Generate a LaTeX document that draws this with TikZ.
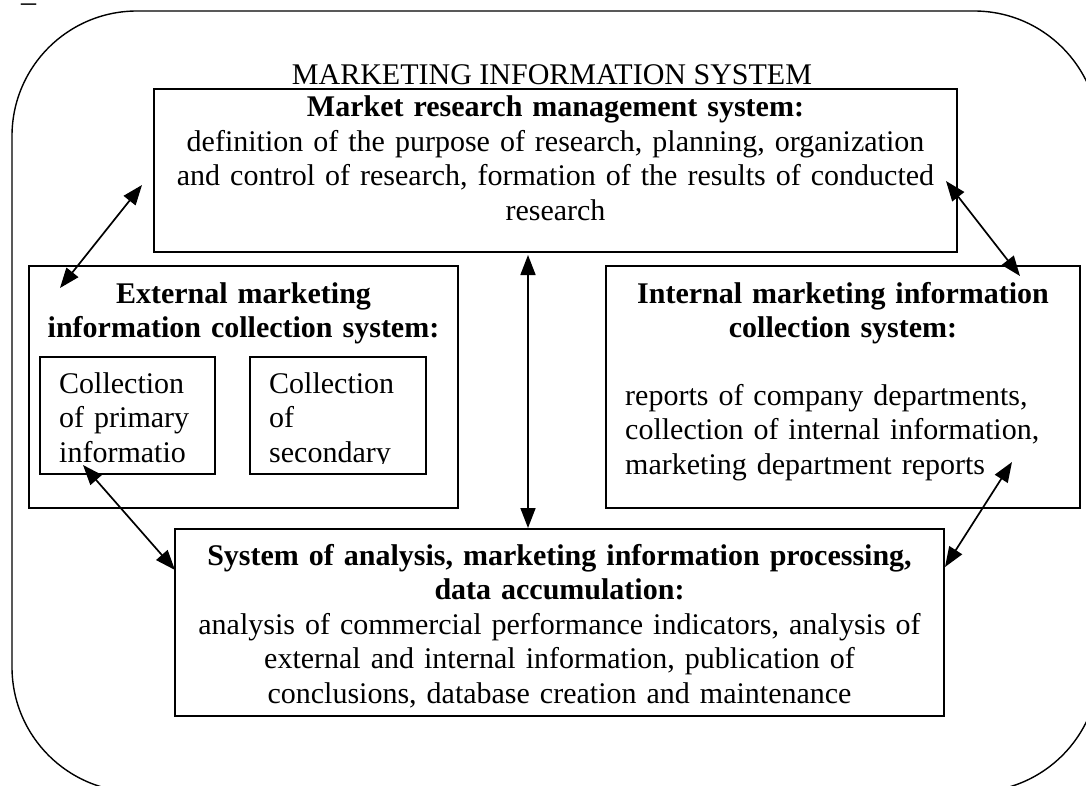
\documentclass[tikz,border=0pt]{standalone}
\usepackage{fontspec}
\setmainfont{Liberation Serif}
\usetikzlibrary{arrows.meta,calc}

\tikzset{
  box/.style={draw, line width=1.8pt, rectangle, inner sep=0pt, outer sep=0pt},
  txt/.style={inner sep=0pt, font=\fontsize{30}{34.5}\selectfont},
  ctxt/.style={txt, align=center, anchor=base},
  ltxt/.style={txt, align=left, anchor=base west},
  biarrow/.style={line width=1.7pt,
    arrows={Triangle[length=20pt,width=15pt]-Triangle[length=20pt,width=15pt]}},
}

\begin{document}
\begin{tikzpicture}[x=1pt,y=-1pt]
\useasboundingbox (0,0) rectangle (1086,786);
\clip (0,0) rectangle (1086,786);
\fill[white] (0,0) rectangle (1086,786);

% stray mark in the top-left corner
\node[ltxt] (mark) at (21,2) {\_};

% outer frame of the whole system
\draw[line width=1.4pt, rounded corners=125pt] (12,11) rectangle (1099,792);

% title
\node[txt, anchor=base] (title) at (552,85) {MARKETING INFORMATION SYSTEM};

% boxes
\node[box, minimum width=803pt, minimum height=163pt] (mrs)  at (555.5,170.5) {};
\node[box, minimum width=429pt, minimum height=242pt] (ext)  at (243.5,387) {};
\node[box, minimum width=175pt, minimum height=117pt] (prim) at (127.5,415.5) {};
\node[box, minimum width=176pt, minimum height=117pt] (sec)  at (338,415.5) {};
\node[box, minimum width=474pt, minimum height=242pt] (int)  at (843,387) {};
\node[box, minimum width=769pt, minimum height=187pt] (ana)  at (559.5,622.5) {};

% market research management system
\node[ctxt, text width=800pt] (mrst) at (555.5,117)
  {\textbf{Market research management system:}\\
   definition of the purpose of research, planning, organization\\
   and control of research, formation of the results of conducted\\
   research};

% external collection system
\node[ctxt, text width=425pt] (extt) at (243.5,303)
  {\textbf{External marketing}\\ \textbf{information collection system:}};

\begin{scope}
  \clip (40,357) rectangle (426,463);
  \node[ltxt, text width=170pt] (primt) at (59,393)
    {Collection\\ of primary\\ informatio};
  \node[ltxt, text width=170pt] (sect) at (269,393)
    {Collection\\ of\\ secondary};
\end{scope}

% internal collection system
\node[ctxt, text width=470pt] (intt) at (843,303)
  {\textbf{Internal marketing information}\\ \textbf{collection system:}};
\node[ltxt, text width=450pt] (intb) at (625,405)
  {reports of company departments,\\
   collection of internal information,\\
   marketing department reports};

% analysis and processing system
\node[ctxt, text width=765pt] (anat) at (559.5,565)
  {\textbf{System of analysis, marketing information processing,}\\
   \textbf{data accumulation:}\\
   analysis of commercial performance indicators, analysis of\\
   external and internal information, publication of\\
   conclusions, database creation and maintenance};

% two-way links
\draw[biarrow] ($(mrs.west)+(-12,14.5)$) -- ($(ext.north west)+(31,22)$);
\draw[biarrow] ($(mrs.east)+(-11,10.5)$) -- ($(int.north east)+(-60,10)$);
\draw[biarrow] ($(mrs.south)+(-27.5,3)$) -- ($(ana.north)+(-31.5,-1)$);
\draw[biarrow] ($(prim.south west)+(43,-9)$) -- ($(ana.west)+(0,-52.5)$);
\draw[biarrow] ($(int.south east)+(-68,-46)$) -- ($(ana.east)+(1,-55.5)$);
\end{tikzpicture}
\end{document}
